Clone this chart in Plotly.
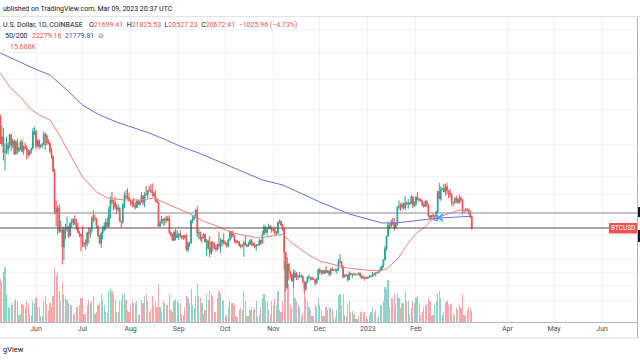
import plotly.graph_objects as go
import pandas as pd

# ---------------- data (BTCUSD daily, Coinbase) ----------------
first_open = 34060
# closes
c_may = [30080,31010,28930,29030,29280,29860,31300,29850,30420,28700,30300,29190,29430,30300,29100,29650,29540,29200,28630,29030,29470,31720,31790]
c_jun = [29800,30450,29700,29860,29910,31370,31130,30200,30110,29090,28420,26570,22490,22130,22580,20380,20470,19010,20560,20580,20720,19970,21100,21230,21500,21030,20730,20270,20100,19930]
c_jul = [19290,19250,19300,20220,20180,20550,21620,21590,21590,20850,19960,19330,20210,20570,20830,21190,20780,22430,23390,23230,23160,22680,22450,22580,21310,21250,22950,23850,23770,23640,23300]
c_aug = [23270,22980,22820,22630,23310,22960,23180,23810,23160,23950,23940,24400,24440,24310,24120,23850,23340,23190,20830,21140,21520,21400,21530,21370,21570,20250,20030,19550,20280,19800,20050]
c_sep = [20130,19950,19830,19990,19800,18790,19290,19320,21360,21650,21830,22400,20180,20230,19700,19800,20110,19420,19540,18880,18480,19400,19300,18920,18800,19220,19080,19410,19590,19420]
c_oct = [19310,19060,19630,20340,20160,19960,19530,19420,19450,19130,19060,19160,19380,19180,19070,19260,19550,19330,19120,19040,19170,19210,19570,19330,20090,20770,20290,20600,20820,20630,20490]
c_nov = [20480,20160,20210,21150,21300,20910,20590,18540,15880,17590,17070,16800,16330,16620,16900,16660,16690,16700,16700,16280,15780,16240,16600,16600,16520,16460,16440,16210,16440,17170]
c_dec = [16970,17090,16890,17110,16970,17090,16840,17220,17130,17130,17090,17210,17780,17810,17360,16630,16780,16740,16440,16900,16820,16830,16780,16840,16830,16920,16700,16540,16630,16600,16530]
c_jan = [16610,16670,16670,16850,16830,16950,16940,17120,17190,17440,17940,18850,19930,20950,20870,21180,21130,20680,21070,22670,22780,22710,22920,22630,23060,23010,23080,23030,23740,22830,23130]
c_feb = [23730,23490,23430,23320,22930,22760,23250,22960,21800,21630,21860,21780,21780,22200,24330,23520,24570,24630,24280,24840,24440,24190,23940,23190,23160,23550,23490,23140]
c_mar = [23640,23470,22360,22350,22430,22410,22200,21699.41,20672.41]
# highs
h_may = [34240,32660,32200,30140,30990,30300,31420,31300,30780,30660,30520,30760,29610,30450,30650,29830,30200,29850,29360,29230,29550,32220,32390]
h_jun = [31980,30640,30680,29960,30180,31760,31550,31320,30700,30350,29450,28560,26900,23340,22800,22980,21360,20780,20800,21050,21720,20880,21220,21540,21580,21860,21530,21180,20400,20170]
h_jul = [20870,19440,19650,20330,20730,20680,21820,22400,21940,21600,20870,20050,20290,20880,21200,21570,21670,22770,23790,24280,23430,23760,22990,23000,22660,21350,23110,24200,24450,24650,24200]
h_aug = [23500,23460,23640,23220,23460,23350,23370,24240,23930,24230,24920,24460,24890,25050,25210,24240,24450,23600,23200,21380,21800,21520,21670,21830,21820,21880,20350,20170,20420,20580,20480]
h_sep = [20200,20450,20000,20000,20050,20180,19460,19450,21440,21790,21850,22480,22800,20550,20350,19880,20190,20100,19680,19640,19950,19500,19500,19310,19190,19300,20350,19780,19640,20180]
h_oct = [19480,19400,19720,20460,20370,20460,20050,19610,19550,19520,19260,19220,19520,19950,19230,19440,19680,19700,19350,19340,19250,19260,19700,19600,20410,21020,20870,20740,21080,20920,20830]
h_nov = [20700,20800,20390,21300,21470,21360,21060,20690,18600,18170,17680,17070,16880,17180,17130,16980,16750,17000,16820,16760,16300,16310,16690,16810,16600,16690,16600,16480,16570,17250]
h_dec = [17320,17110,17160,17190,17430,17110,17140,17300,17360,17230,17270,17240,18000,18390,17850,17530,16800,16860,16810,17060,16920,16870,16950,16860,16850,16940,16950,16780,16650,16640,16640]
h_jan = [16630,16760,16770,17000,16880,17000,16960,17170,17400,17490,17990,19100,19960,21260,21000,21460,21650,21600,21190,22750,23370,23080,23160,23160,23800,23260,23500,23170,23960,23800,23310]
h_feb = [23800,24250,23590,23590,23440,23160,23350,23450,22990,21940,21900,22090,21880,22320,24380,25250,24870,24700,25190,25120,25270,24480,24600,24120,23220,23680,23880,23600]
h_mar = [24000,23790,23480,22420,22590,22570,22560,22270,21825.53]
# lows
l_may = [30030,29730,27920,26700,28740,28630,29480,29090,29460,28660,28690,28740,28950,29230,28900,28630,29310,28020,28270,28550,28800,29300,31230]
l_jun = [29330,29580,29340,29470,29510,29880,29230,29850,29950,28860,28100,26560,21950,20840,20080,20230,20260,17570,17950,19650,20340,19770,19900,20750,20900,20980,20500,20190,19850,18630]
l_jul = [18980,18980,18780,19040,19290,19780,20240,21190,21320,20660,19880,19230,18910,19640,20380,20470,20770,20760,21570,22920,22350,22470,21960,22260,21250,20700,21050,22580,23420,23500,23240]
l_aug = [22850,22660,22680,22440,22590,22930,22840,23150,22880,22680,23900,23600,24300,24150,23780,23690,23190,23090,20790,20780,21100,20900,20900,21140,21310,20130,19850,19530,19550,19560,19800]
l_sep = [19580,19760,19650,19600,19640,18650,18540,19000,19300,21130,21370,21560,19870,19650,19520,19330,19740,19380,18230,18800,18140,18360,18620,18840,18640,18680,18840,18500,19010,19200]
l_oct = [19160,18940,18970,19500,19750,19850,19330,19260,19320,19020,18870,18970,18190,19080,18980,19070,19160,19100,19070,18910,18660,19120,19080,19160,19250,20070,20210,20000,20560,20530,20240]
l_nov = [20340,20060,20050,20180,21080,20890,20400,17170,15590,15770,16370,16540,16280,15820,16540,16400,16420,16560,16550,16190,15480,15630,16180,16460,16350,16410,16400,15990,16110,16420]
l_dec = [16860,16800,16860,16880,16880,16910,16690,16730,17060,17090,17070,16870,17070,17660,17270,16530,16580,16670,16290,16400,16740,16570,16760,16780,16740,16790,16600,16470,16490,16350,16480]
l_jan = [16500,16550,16600,16650,16750,16680,16900,16910,17100,17150,17310,17900,18710,19890,20570,20650,20900,20420,20660,20880,22430,22320,22540,22470,22340,22850,22520,22880,23000,22550,22720]
l_feb = [22760,23360,23220,23250,22750,22630,22740,22680,21700,21460,21600,21630,21350,21530,22050,23510,23340,24440,24230,23850,23990,23600,23630,22850,22750,22970,23110,23030]
l_mar = [23030,23200,21970,22100,22210,22260,21930,21600,20527.23]
# volume (thousand BTC)
v_may = [62,58,72,80,40,22,20,28,25,30,33,30,10,12,26,24,20,30,28,11,10,30,28]
v_jun = [35,22,22,8,9,30,38,25,18,28,22,38,80,66,70,45,30,58,40,35,32,28,25,24,12,12,22,22,24,35]
v_jul = [35,12,12,25,32,28,30,38,12,14,25,28,40,32,25,14,13,45,48,45,40,32,15,14,30,32,40,42,32,18,15]
v_aug = [25,30,28,27,30,10,11,32,28,38,40,30,15,18,38,25,30,22,55,22,14,30,28,25,24,40,18,15,30,33,30]
v_sep = [28,28,12,10,22,38,35,28,48,25,20,38,55,38,35,28,12,18,40,32,45,40,38,15,14,35,45,40,30,32]
v_oct = [8,10,22,30,28,28,25,8,7,18,20,18,45,30,8,8,18,22,18,20,30,8,12,22,35,40,30,30,18,12,30]
v_nov = [25,35,25,45,18,15,30,88,92,78,55,25,20,50,35,30,25,22,8,12,45,35,30,22,18,8,8,25,22,35]
v_dec = [25,18,8,8,22,18,20,20,18,6,6,18,38,40,25,40,10,8,25,30,15,16,12,4,4,8,14,16,14,15,8]
v_jan = [5,10,15,22,14,18,5,9,25,25,30,50,48,60,22,35,35,42,25,40,35,20,28,28,45,30,30,12,20,30,28]
v_feb = [35,38,28,10,14,22,25,25,35,30,8,10,25,30,40,45,35,10,14,28,30,25,25,28,12,10,20,18]
v_mar = [25,20,40,10,10,18,22,20,15.668]

# moving averages
ma_dates = ["2022-05-09","2022-05-15","2022-05-22","2022-05-28","2022-06-03","2022-06-10","2022-06-15",
            "2022-06-24","2022-07-01","2022-07-10","2022-07-17","2022-07-28","2022-08-08","2022-08-16",
            "2022-08-23","2022-09-07","2022-09-18","2022-09-24","2022-10-04","2022-10-12","2022-10-23",
            "2022-11-07","2022-11-13","2022-11-24","2022-12-01","2022-12-11","2022-12-19","2022-12-31",
            "2023-01-09","2023-01-14","2023-01-21","2023-01-27","2023-02-02","2023-02-07","2023-02-10",
            "2023-02-16","2023-02-23","2023-03-01","2023-03-09"]
sma50 = [41170,38700,37000,35230,34150,33410,31670,28220,25930,24260,23620,23410,23410,23620,23100,22100,
         21230,20950,20310,20040,19770,20100,19340,18330,17850,17540,17300,17150,17080,17300,18170,19340,
         20310,20770,21330,21710,22100,22390,22279.16]
ma200_dates = ["2022-05-09","2022-05-30","2022-06-10","2022-06-21","2022-07-01","2022-07-12","2022-07-23",
               "2022-08-02","2022-08-13","2022-08-24","2022-09-03","2022-09-14","2022-10-10","2022-10-25",
               "2022-11-07","2022-12-01","2022-12-20","2023-01-10","2023-01-19","2023-02-16","2023-03-09"]
sma200 = [45000,42090,40800,38180,35710,34160,33110,32390,31530,30570,29630,28850,26750,25590,25030,23200,
          22000,21140,21140,21610,21779.81]
cross_date = ["2023-02-16"]
cross_price = [21650]

hline_price = 22100
last_price = 20672.41
month_ticks = ["2022-06-01","2022-07-01","2022-08-01","2022-09-01","2022-10-01","2022-11-01",
               "2022-12-01","2023-01-01","2023-02-01","2023-04-01","2023-05-01","2023-06-01"]
month_text = ["Jun","Jul","Aug","Sep","Oct","Nov","Dec","2023","Feb","Apr","May","Jun"]

# ---------------- build ----------------
closes = c_may + c_jun + c_jul + c_aug + c_sep + c_oct + c_nov + c_dec + c_jan + c_feb + c_mar
highs = h_may + h_jun + h_jul + h_aug + h_sep + h_oct + h_nov + h_dec + h_jan + h_feb + h_mar
lows = l_may + l_jun + l_jul + l_aug + l_sep + l_oct + l_nov + l_dec + l_jan + l_feb + l_mar
vols = v_may + v_jun + v_jul + v_aug + v_sep + v_oct + v_nov + v_dec + v_jan + v_feb + v_mar
opens = [first_open] + closes[:-1]
dates = pd.date_range("2022-05-09", periods=len(closes), freq="D")

UP = "#26a69a"
DN = "#ef5350"
vcol = ["rgba(38,166,154,0.5)" if c >= o else "rgba(239,83,80,0.5)" for o, c in zip(opens, closes)]

W, H = 640, 360
ML, MR, MT, MB = 0, 3, 17, 38
PW = W - ML - MR
PH = H - MT - MB


def px(x):
    return (x - ML) / PW


def py(y):
    return 1 - (y - MT) / PH


fig = go.Figure()
fig.add_trace(go.Bar(x=dates, y=vols, marker=dict(color=vcol, line=dict(width=0)),
                     yaxis="y2", width=0.75 * 86400000, showlegend=False, hoverinfo="skip"))
fig.add_trace(go.Candlestick(x=dates, open=opens, high=highs, low=lows, close=closes,
                             increasing=dict(line=dict(color=UP, width=1), fillcolor=UP),
                             decreasing=dict(line=dict(color=DN, width=1), fillcolor=DN),
                             whiskerwidth=0, showlegend=False))
fig.add_trace(go.Scatter(x=ma_dates, y=sma50, mode="lines", line=dict(color="#f0827c", width=1),
                         showlegend=False, hoverinfo="skip"))
fig.add_trace(go.Scatter(x=ma200_dates, y=sma200, mode="lines", line=dict(color="#6a6ed8", width=1),
                         showlegend=False, hoverinfo="skip"))
fig.add_trace(go.Scatter(x=cross_date, y=cross_price, mode="markers",
                         marker=dict(symbol="x-thin", size=7, line=dict(color="#42a5f5", width=2)),
                         showlegend=False, hoverinfo="skip"))

# horizontal lines
fig.add_shape(type="line", xref="paper", x0=0, x1=1, yref="y", y0=hline_price, y1=hline_price,
              line=dict(color="#8a8d96", width=1))
fig.add_shape(type="line", xref="paper", x0=0, x1=1, yref="y", y0=last_price, y1=last_price,
              line=dict(color="#5e4a4a", width=1))
# frame lines
fig.add_shape(type="line", xref="paper", yref="paper", x0=px(637.5), x1=px(637.5), y0=py(17), y1=py(338),
              line=dict(color="#b2b5be", width=1))
fig.add_shape(type="line", xref="paper", yref="paper", x0=px(0), x1=px(640), y0=py(338), y1=py(338),
              line=dict(color="#e0e3eb", width=1))
fig.add_shape(type="line", xref="paper", yref="paper", x0=px(0), x1=px(640), y0=py(16.5), y1=py(16.5),
              line=dict(color="#e0e3eb", width=1))
# cut-off price axis labels at the right edge
for y0, y1 in [(207, 217), (230, 242)]:
    fig.add_shape(type="rect", xref="paper", yref="paper", x0=px(638), x1=px(641), y0=py(y1), y1=py(y0),
                  fillcolor="#131722", line=dict(width=0))
# BTCUSD tag
fig.add_shape(type="rect", xref="paper", yref="paper", x0=px(609), x1=px(637), y0=py(233.5), y1=py(223),
              fillcolor="#ef5350", line=dict(width=0))

FONT = "Roboto"
FS = 7
ann = [
    dict(x=px(0.5), y=py(9), text="ublished on TradingView.com, Mar 09, 2023 20:37 UTC", xanchor="left",
         font=dict(size=FS, color="#131722")),
    dict(x=px(0.5), y=py(25), text="U.S. Dollar, 1D, COINBASE", xanchor="left",
         font=dict(size=FS, color="#131722")),
    dict(x=px(87), y=py(25), xanchor="left", font=dict(size=FS, color="#131722"),
         text=("O<span style='color:#ef5350'>21699.41</span>  H<span style='color:#ef5350'>21825.53</span>  "
               "L<span style='color:#ef5350'>20527.23</span>  C<span style='color:#ef5350'>20672.41</span>  "
               "<span style='color:#ef5350'>\u22121025.96 (\u22124.73%)</span>")),
    dict(x=px(3), y=py(36), text="50/200", xanchor="left", font=dict(size=FS, color="#131722")),
    dict(x=px(30), y=py(36), xanchor="left", font=dict(size=FS, color="#131722"),
         text="<span style='color:#ef5350'>22279.16</span>  <span style='color:#3f51b5'>21779.81</span>  <span style='color:#787b86'>\u2298</span>"),
    dict(x=px(8), y=py(46.5), text="15.668K", xanchor="left", font=dict(size=FS, color="#ef5350")),
    dict(x=px(0.5), y=py(349), text="gView", xanchor="left", font=dict(size=7.5, color="#131722")),
    dict(x=px(623), y=py(228.3), text="BTCUSD", xanchor="center", font=dict(size=6.5, color="#ffffff")),
]
for a in ann:
    a.update(xref="paper", yref="paper", showarrow=False, yanchor="middle")
    a["font"]["family"] = FONT
fig.update_layout(annotations=ann)

fig.update_layout(
    width=W, height=H,
    margin=dict(l=ML, r=MR, t=MT, b=MB),
    paper_bgcolor="white", plot_bgcolor="white",
    font=dict(family=FONT, size=7, color="#131722"),
    bargap=0,
    xaxis=dict(type="date", range=["2022-05-08 19:00", "2023-06-23 12:00"], rangeslider=dict(visible=False),
               tickvals=month_ticks, ticktext=month_text, showgrid=True, gridcolor="#f0f3fa",
               ticks="", tickfont=dict(size=7, color="#4a4e59"), showline=True, linecolor="#b2b5be",
               linewidth=1, zeroline=False, fixedrange=True),
    yaxis=dict(type="log", range=[4.13392, 4.72269], side="right", showticklabels=False,
               tickvals=[15000, 16000, 17000, 18000, 20000, 22000, 24000, 26000, 30000, 35000, 40000, 45000, 50000],
               showgrid=True, gridcolor="#f0f3fa", zeroline=False, ticks="", fixedrange=True),
    yaxis2=dict(overlaying="y", range=[0, 440], showticklabels=False, showgrid=False, zeroline=False,
                fixedrange=True),
    hovermode=False,
)

fig.write_html("out.html", config={"displayModeBar": False, "staticPlot": True},
               post_script="document.body.style.margin='0';document.body.style.overflow='hidden';")
